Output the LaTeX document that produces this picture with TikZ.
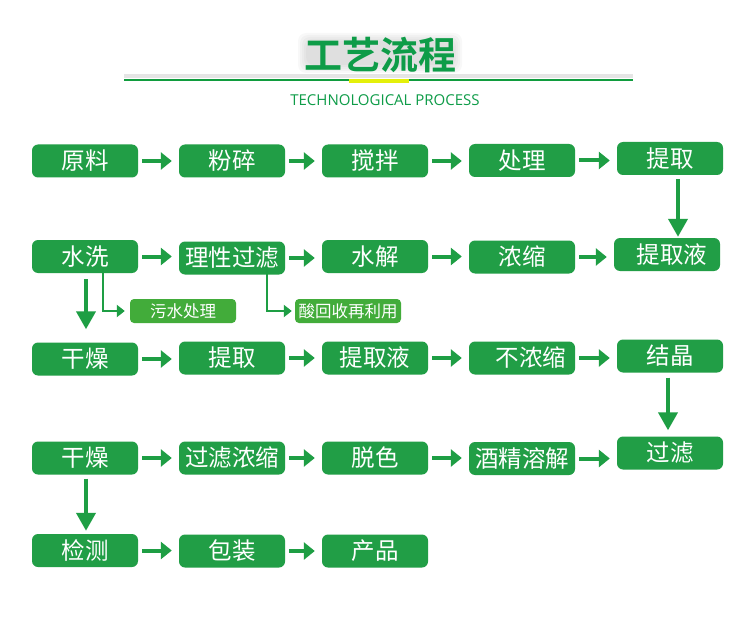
\documentclass[tikz,border=0pt]{standalone}
\usepackage{fontspec}
\setmainfont{Open Sans}
\newfontfamily\cjk{Noto Sans CJK SC}
\newfontfamily\cjkb{Noto Sans CJK SC Bold}
\usetikzlibrary{arrows.meta}
\definecolor{boxgreen}{RGB}{33,158,70}
\definecolor{smallgreen}{RGB}{66,172,58}
\definecolor{arrgreen}{RGB}{30,158,68}
\definecolor{titlegreen}{RGB}{14,156,72}
\definecolor{linegreen}{RGB}{16,156,62}
\definecolor{baryellow}{RGB}{228,240,10}
\tikzset{
  stepbox/.style={fill=boxgreen, rounded corners=6pt, minimum width=106pt, minimum height=33pt, inner sep=0pt, text=white, font=\cjk\fontsize{23.5}{26}\selectfont},
  smallbox/.style={fill=smallgreen, rounded corners=4pt, minimum width=106pt, minimum height=24pt, inner sep=0pt, text=white, font=\cjk\fontsize{16.5}{18}\selectfont},
  harrow/.style={draw=arrgreen, line width=4pt, -{Triangle[length=11pt,width=17pt]}, shorten <=4pt, shorten >=7pt},
  varrow/.style={draw=arrgreen, line width=4pt, -{Triangle[length=18pt,width=19pt]}},
  barrow/.style={draw=arrgreen, line width=2.5pt, -{Triangle[length=8pt,width=12pt]}},
  haze/.style={fill=gray, opacity=0.05, rounded corners=8pt},
}
\begin{document}
\begin{tikzpicture}[x=1pt,y=-1pt]
\useasboundingbox (0,0) rectangle (750,623);
\fill[white] (0,0) rectangle (750,623);
% title haze (blurred shadow)
\foreach \m in {0,2,4,6,8}{
  \fill[haze] (298+\m,33+\m) rectangle (462-\m,73-\m);
}
\node[text=titlegreen, font=\cjkb\fontsize{38}{40}\selectfont] (title) at (380,55) {工艺流程};
\draw[gray!40, line width=4pt, opacity=0.5] (124,76) -- (633,76);
\draw[linegreen, line width=2pt] (124,80.5) coordinate (tl) -- (633,80.5) coordinate (tr);
\draw[baryellow, line width=4pt] (349,81) coordinate (yl) -- (409,81) coordinate (yr);
\node[text=titlegreen, font=\fontsize{15}{17}\selectfont] (sub) at (385,100.5) {TECHNOLOGICAL PROCESS};
% row 1
\node[stepbox] (a1) at (85,161) {原料};
\node[stepbox] (a2) at (232,161) {粉碎};
\node[stepbox] (a3) at (375,161) {搅拌};
\node[stepbox] (a4) at (522,160.5) {处理};
\node[stepbox] (a5) at (670,158.5) {提取};
% row 2
\node[stepbox] (b1) at (85,256.5) {水洗};
\node[stepbox] (b2) at (232,258) {理性过滤};
\node[stepbox] (b3) at (375,256.5) {水解};
\node[stepbox] (b4) at (522,257) {浓缩};
\node[stepbox] (b5) at (667,254.5) {\hspace*{10pt}提取液};
% small boxes
\node[smallbox] (s1) at (183,311) {污水处理};
\node[smallbox] (s2) at (348,311) {酸回收再利用};
% row 3
\node[stepbox] (c1) at (85,359) {干燥};
\node[stepbox] (c2) at (232,358) {提取};
\node[stepbox] (c3) at (375,358) {提取液};
\node[stepbox] (c4) at (522,358) {\hspace*{18pt}不浓缩};
\node[stepbox] (c5) at (670,356) {结晶};
% row 4
\node[stepbox] (d1) at (85,458) {干燥};
\node[stepbox] (d2) at (232,458) {过滤浓缩};
\node[stepbox] (d3) at (375,458) {脱色};
\node[stepbox] (d4) at (522,458.5) {酒精溶解};
\node[stepbox] (d5) at (670,453) {过滤};
% row 5
\node[stepbox] (e1) at (85,550.5) {检测};
\node[stepbox] (e2) at (232,551) {包装};
\node[stepbox] (e3) at (375,551) {产品};
% horizontal arrows
\foreach \r in {a,b,c,d}{
  \foreach \i/\j in {1/2,2/3,3/4,4/5}{
    \draw[harrow] (\r\i.east) -- (\r\i.east -| \r\j.west);
  }
}
\draw[harrow] (e1.east) -- (e1.east -| e2.west);
\draw[harrow] (e2.east) -- (e2.east -| e3.west);
% vertical arrows
\draw[varrow, shorten <=4pt, shorten >=1pt] ([xshift=8pt]a5.south) -- ([xshift=8pt]a5.south |- b5.north);
\draw[varrow, shorten <=6pt, shorten >=13pt] ([xshift=1pt]b1.south) -- ([xshift=1pt]b1.south |- c1.north);
\draw[varrow, shorten <=5pt, shorten >=6pt] ([xshift=-2pt]c5.south) -- ([xshift=-2pt]c5.south |- d5.north);
\draw[varrow, shorten <=4pt, shorten >=3pt] ([xshift=1pt]d1.south) -- ([xshift=1pt]d1.south |- e1.north);
% branch arrows
\draw[barrow, shorten >=5pt] ([xshift=18pt,yshift=6pt]b1.south) |- (s1.west);
\draw[barrow, shorten >=3pt] ([xshift=35pt,yshift=7pt]b2.south) |- (s2.west);
\end{tikzpicture}
\end{document}
